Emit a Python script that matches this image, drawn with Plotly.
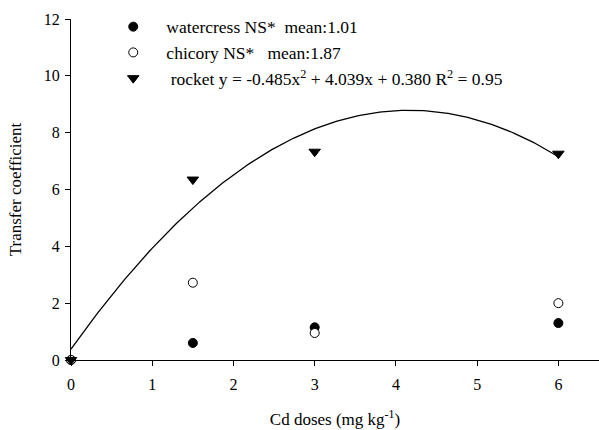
import numpy as np
import plotly.graph_objects as go

doses = [0, 1.5, 3, 6]
watercress = [0, 0.6, 1.15, 1.3]
chicory = [0, 2.72, 0.95, 2.0]
rocket = [0, 6.35, 7.33, 7.26]
rocket_coef = [-0.485, 4.039, 0.380]  # a x^2 + b x + c
x_ticks = [0, 1, 2, 3, 4, 5, 6]
y_ticks = [0, 2, 4, 6, 8, 10, 12]

FONT = "Liberation Serif, Times New Roman, serif"
NB = "\u00a0"
PAD = NB * 3

fig = go.Figure()

xf = np.linspace(0, 6, 200)
yf = np.polyval(rocket_coef, xf)
fig.add_trace(go.Scatter(x=xf, y=yf, mode="lines", line=dict(color="black", width=1.3),
                         showlegend=False, hoverinfo="skip", cliponaxis=False))

fig.add_trace(go.Scatter(x=doses, y=watercress, mode="markers",
                         name=f"{PAD}watercress NS*{NB}{NB}mean:1.01",
                         marker=dict(symbol="circle", size=9, color="black",
                                     line=dict(color="black", width=1)),
                         cliponaxis=False))
fig.add_trace(go.Scatter(x=doses, y=chicory, mode="markers",
                         name=f"{PAD}chicory NS*{NB}{NB}{NB}mean:1.87",
                         marker=dict(symbol="circle", size=9, color="white",
                                     line=dict(color="black", width=1)),
                         cliponaxis=False))
fig.add_trace(go.Scatter(x=doses, y=rocket, mode="markers",
                         name=f"{PAD}{NB}rocket y = -0.485x<sup>2</sup> + 4.039x + 0.380 R<sup>2</sup> = 0.95",
                         marker=dict(symbol="triangle-down", size=10, color="black",
                                     line=dict(color="black", width=1)),
                         cliponaxis=False))

fig.update_layout(
    width=599, height=430,
    margin=dict(l=71, r=0, t=19, b=70, autoexpand=False),
    paper_bgcolor="white", plot_bgcolor="white",
    font=dict(family=FONT, size=16, color="black"),
    showlegend=True,
    legend=dict(x=0.08, y=1.03, xanchor="left", yanchor="top",
                bgcolor="rgba(0,0,0,0)", font=dict(size=17.5, family=FONT),
                itemwidth=30, tracegroupgap=0),
    xaxis=dict(range=[0, 6.5], tickvals=x_ticks, ticks="outside", ticklen=5,
               showline=True, linecolor="black", linewidth=1.2, showgrid=False,
               zeroline=False, tickcolor="black", automargin=False,
               ticklabelstandoff=5,
               tickfont=dict(size=16, family=FONT),
               title=dict(text="Cd doses (mg kg<sup>-1</sup>)", standoff=20,
                          font=dict(size=17, family=FONT))),
    yaxis=dict(range=[0, 12], tickvals=y_ticks, ticks="outside", ticklen=5,
               showline=True, linecolor="black", linewidth=1.2, showgrid=False,
               zeroline=False, tickcolor="black", automargin=False,
               ticklabelstandoff=2,
               tickfont=dict(size=16, family=FONT),
               title=dict(text="Transfer coefficient", standoff=17,
                          font=dict(size=17, family=FONT))),
)

fig.write_html("out.html", config={"displayModeBar": False},
               post_script="document.body.style.margin='0';")
